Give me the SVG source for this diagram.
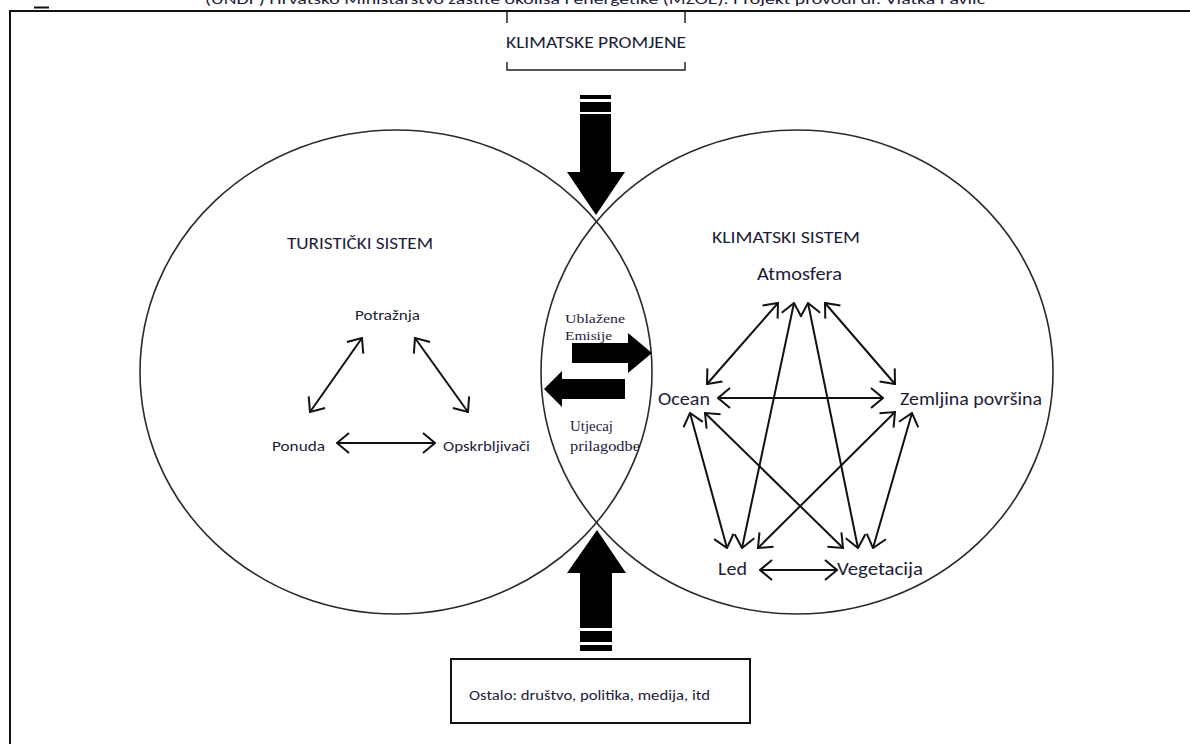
<svg xmlns="http://www.w3.org/2000/svg" width="1190" height="744" viewBox="0 0 1190 744">
<style>
.t{font-family:Carlito,"Liberation Sans Narrow","Liberation Sans",sans-serif;fill:#1c1c38}
.s{font-family:"Liberation Serif",serif;fill:#1c1c38}
.ln{stroke:#111;stroke-width:2;fill:none}
.el{stroke:#2a2a2a;stroke-width:1.6;fill:none}
.blk{fill:#000}
</style>
<defs>
<marker id="ah" viewBox="0 0 14 22" refX="13" refY="11" markerWidth="14" markerHeight="22" markerUnits="userSpaceOnUse" orient="auto-start-reverse">
<path d="M1,1 L13,11 L1,21" fill="none" stroke="#111" stroke-width="2"/>
</marker>
</defs>
<rect width="1190" height="744" fill="#fff"/>
<g id="caption">
<text class="t" x="595" y="4" font-size="15" text-anchor="middle" textLength="780" lengthAdjust="spacingAndGlyphs">(UNDP) Hrvatsko Ministarstvo zaštite okoliša i energetike (MZOE). Projekt provodi dr. Vlatka Pavlić</text>
</g>
<g id="frame">
<path d="M10,744 V11 H1190" fill="none" stroke="#111" stroke-width="2"/>
<path d="M34,7.5 H49" stroke="#111" stroke-width="2"/>
</g>
<g id="ellipses">
<ellipse class="el" cx="396" cy="372" rx="256" ry="242"/>
<ellipse class="el" cx="797" cy="372" rx="256" ry="242"/>
</g>
<g id="klimatske-promjene">
<path d="M507,12 V23 M685,12 V23 M507,62 V70 H685 V62" fill="none" stroke="#222" stroke-width="1.5"/>
<text class="t" x="596" y="48" font-size="16" text-anchor="middle" textLength="180" lengthAdjust="spacingAndGlyphs">KLIMATSKE PROMJENE</text>
</g>
<g id="arrow-down">
<rect class="blk" x="580" y="95" width="31" height="4"/>
<rect class="blk" x="580" y="102" width="31" height="10"/>
<polygon class="blk" points="580,114 611,114 611,172 625,172 596,215 567,172 580,172"/>
</g>
<g id="arrow-up">
<polygon class="blk" points="597,530 626,573 612,573 612,628 580,628 580,573 567,573"/>
<rect class="blk" x="580" y="631" width="32" height="11"/>
<rect class="blk" x="580" y="645" width="32" height="6"/>
</g>
<g id="ostalo">
<rect x="451" y="659" width="299" height="64" fill="#fff" stroke="#111" stroke-width="2"/>
<text class="t" x="469" y="700" font-size="15" textLength="241" lengthAdjust="spacingAndGlyphs">Ostalo: društvo, politika, medija, itd</text>
</g>
<g id="turisticki">
<text class="t" x="287" y="249" font-size="16" textLength="146" lengthAdjust="spacingAndGlyphs">TURISTIČKI SISTEM</text>
</g>
<g id="klimatski">
<text class="t" x="712" y="243" font-size="16" textLength="148" lengthAdjust="spacingAndGlyphs">KLIMATSKI SISTEM</text>
</g>
<g id="potraznja"><text class="t" x="355" y="320" font-size="15" textLength="65" lengthAdjust="spacingAndGlyphs">Potražnja</text></g>
<g id="ponuda"><text class="t" x="272" y="451" font-size="15" textLength="53" lengthAdjust="spacingAndGlyphs">Ponuda</text></g>
<g id="opskrbljivaci"><text class="t" x="443" y="451" font-size="15" textLength="87" lengthAdjust="spacingAndGlyphs">Opskrbljivači</text></g>
<g id="atmosfera"><text class="t" x="757" y="280" font-size="18" textLength="85" lengthAdjust="spacingAndGlyphs">Atmosfera</text></g>
<g id="ocean"><text class="t" x="658" y="405" font-size="18" textLength="52" lengthAdjust="spacingAndGlyphs">Ocean</text></g>
<g id="zemljina"><text class="t" x="900" y="405" font-size="18" textLength="142" lengthAdjust="spacingAndGlyphs">Zemljina površina</text></g>
<g id="led"><text class="t" x="718" y="575" font-size="18" textLength="29" lengthAdjust="spacingAndGlyphs">Led</text></g>
<g id="vegetacija"><text class="t" x="837" y="575" font-size="18" textLength="86" lengthAdjust="spacingAndGlyphs">Vegetacija</text></g>
<g id="lens">
<text class="s" x="565" y="323" font-size="13" textLength="60" lengthAdjust="spacingAndGlyphs">Ublažene</text>
<text class="s" x="565" y="340" font-size="13" textLength="47" lengthAdjust="spacingAndGlyphs">Emisije</text>
<polygon class="blk" points="572,343 628,343 628,333 652,353 628,373 628,363 572,363"/>
<polygon class="blk" points="544,389 562,371 562,379 625,379 625,399 562,399 562,407"/>
<text class="s" x="570" y="431" font-size="14" textLength="43" lengthAdjust="spacingAndGlyphs">Utjecaj</text>
<text class="s" x="570" y="451" font-size="14" textLength="70" lengthAdjust="spacingAndGlyphs">prilagodbe</text>
</g>
<g id="connectors" class="ln">
<line x1="362" y1="338" x2="310" y2="412" marker-start="url(#ah)" marker-end="url(#ah)"/>
<line x1="415" y1="338" x2="468" y2="412" marker-start="url(#ah)" marker-end="url(#ah)"/>
<line x1="337" y1="443" x2="435" y2="443" marker-start="url(#ah)" marker-end="url(#ah)"/>
<line x1="778" y1="303" x2="707" y2="384" marker-start="url(#ah)" marker-end="url(#ah)"/>
<line x1="794" y1="303" x2="742" y2="548" marker-start="url(#ah)" marker-end="url(#ah)"/>
<line x1="808" y1="303" x2="858" y2="548" marker-start="url(#ah)" marker-end="url(#ah)"/>
<line x1="825" y1="303" x2="895" y2="384" marker-start="url(#ah)" marker-end="url(#ah)"/>
<line x1="718" y1="398" x2="883" y2="398" marker-start="url(#ah)" marker-end="url(#ah)"/>
<line x1="690" y1="413" x2="727" y2="548" marker-start="url(#ah)" marker-end="url(#ah)"/>
<line x1="705" y1="413" x2="843" y2="548" marker-start="url(#ah)" marker-end="url(#ah)"/>
<line x1="895" y1="412" x2="758" y2="548" marker-start="url(#ah)" marker-end="url(#ah)"/>
<line x1="912" y1="413" x2="873" y2="548" marker-start="url(#ah)" marker-end="url(#ah)"/>
<line x1="760" y1="570" x2="837" y2="570" marker-start="url(#ah)" marker-end="url(#ah)"/>
</g>
</svg>
